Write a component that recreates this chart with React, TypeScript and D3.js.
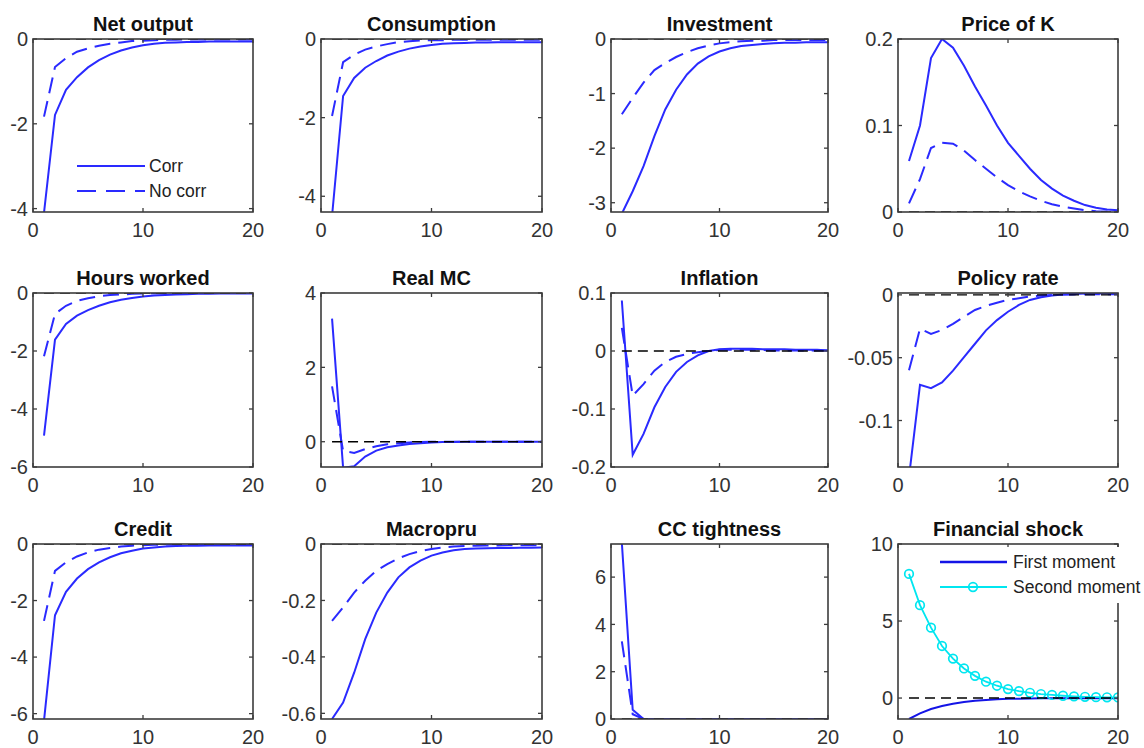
import React from 'react';
import * as d3 from 'd3';

// horizon (quarters) and x axis ticks
const periods = [1, 2, 3, 4, 5, 6, 7, 8, 9, 10, 11, 12, 13, 14, 15, 16, 17, 18, 19, 20];
const xTicks = [0, 10, 20];

// responses: "Corr" (solid) and "No corr" (dashed)
const netOutputCorr = [-4.1, -1.79, -1.2, -0.9, -0.67, -0.5, -0.37, -0.27, -0.2, -0.15, -0.11, -0.09, -0.08, -0.07, -0.07, -0.06, -0.06, -0.06, -0.06, -0.06];
const netOutputNoCorr = [-1.83, -0.66, -0.45, -0.3, -0.22, -0.16, -0.11, -0.08, -0.05, -0.04, -0.03, -0.02, -0.02, -0.01, -0.01, -0.01, -0.01, -0.01, -0.01, -0.01];
const consumptionCorr = [-4.5, -1.45, -0.99, -0.73, -0.56, -0.42, -0.32, -0.245, -0.19, -0.15, -0.12, -0.11, -0.1, -0.09, -0.09, -0.08, -0.08, -0.08, -0.08, -0.08];
const consumptionNoCorr = [-1.96, -0.59, -0.4, -0.27, -0.19, -0.13, -0.08, -0.06, -0.04, -0.03, -0.03, -0.02, -0.02, -0.02, -0.02, -0.02, -0.02, -0.02, -0.02, -0.02];
const investmentCorr = [-3.2, -2.79, -2.33, -1.78, -1.29, -0.93, -0.65, -0.45, -0.32, -0.23, -0.17, -0.13, -0.11, -0.09, -0.08, -0.07, -0.07, -0.06, -0.06, -0.06];
const investmentNoCorr = [-1.38, -1.08, -0.8, -0.57, -0.44, -0.33, -0.24, -0.17, -0.12, -0.08, -0.06, -0.04, -0.03, -0.03, -0.02, -0.02, -0.02, -0.02, -0.02, -0.02];
const priceKCorr = [0.059, 0.1, 0.178, 0.2, 0.19, 0.169, 0.145, 0.123, 0.1, 0.08, 0.065, 0.05, 0.037, 0.027, 0.019, 0.013, 0.008, 0.005, 0.003, 0.002];
const priceKNoCorr = [0.01, 0.038, 0.074, 0.08, 0.079, 0.071, 0.06, 0.05, 0.04, 0.031, 0.024, 0.018, 0.013, 0.009, 0.006, 0.004, 0.002, 0.001, 0.0005, 0];
const hoursCorr = [-4.92, -1.61, -1.07, -0.78, -0.59, -0.44, -0.32, -0.23, -0.17, -0.12, -0.09, -0.07, -0.05, -0.04, -0.03, -0.03, -0.02, -0.02, -0.02, -0.02];
const hoursNoCorr = [-2.18, -0.72, -0.44, -0.27, -0.18, -0.11, -0.07, -0.05, -0.03, -0.02, -0.01, -0.01, 0, 0, 0, 0, 0, 0, 0, 0];
const realMcCorr = [3.31, -0.7, -0.66, -0.4, -0.24, -0.15, -0.1, -0.06, -0.04, -0.02, -0.01, -0.01, 0, 0, 0, 0, 0, 0, 0, 0];
const realMcNoCorr = [1.49, -0.25, -0.3, -0.2, -0.12, -0.07, -0.04, -0.02, -0.01, 0, 0, 0, 0, 0, 0, 0, 0, 0, 0, 0];
const inflationCorr = [0.087, -0.179, -0.143, -0.097, -0.062, -0.036, -0.019, -0.0075, 0, 0.003, 0.004, 0.004, 0.004, 0.003, 0.003, 0.003, 0.002, 0.002, 0.002, 0.001];
const inflationNoCorr = [0.04, -0.077, -0.057, -0.034, -0.019, -0.01, -0.005, -0.002, 0, 0.002, 0.002, 0.002, 0.002, 0.002, 0.001, 0.001, 0.001, 0.001, 0.001, 0.001];
const policyCorr = [-0.145, -0.0716, -0.0743, -0.0697, -0.0603, -0.0496, -0.0389, -0.0282, -0.0201, -0.0134, -0.008, -0.004, -0.0019, -0.0005, 0.0003, 0.0008, 0.0011, 0.0012, 0.0012, 0.0011];
const policyNoCorr = [-0.06, -0.027, -0.031, -0.028, -0.023, -0.0174, -0.012, -0.0088, -0.0062, -0.004, -0.0027, -0.0013, -0.0005, 0, 0.0003, 0.0004, 0.0005, 0.0005, 0.0005, 0.0005];
const creditCorr = [-6.25, -2.52, -1.69, -1.22, -0.89, -0.65, -0.47, -0.33, -0.24, -0.16, -0.12, -0.09, -0.07, -0.06, -0.06, -0.05, -0.05, -0.05, -0.05, -0.05];
const creditNoCorr = [-2.72, -0.95, -0.65, -0.44, -0.3, -0.2, -0.14, -0.09, -0.06, -0.04, -0.03, -0.02, -0.02, -0.02, -0.02, -0.02, -0.02, -0.02, -0.02, -0.02];
const macropruCorr = [-0.62, -0.562, -0.456, -0.337, -0.243, -0.172, -0.118, -0.083, -0.059, -0.041, -0.03, -0.022, -0.018, -0.016, -0.015, -0.014, -0.014, -0.013, -0.013, -0.012];
const macropruNoCorr = [-0.272, -0.225, -0.172, -0.13, -0.095, -0.071, -0.051, -0.036, -0.025, -0.018, -0.012, -0.009, -0.007, -0.006, -0.005, -0.005, -0.004, -0.004, -0.004, -0.004];
const ccCorr = [7.45, 0.39, 0, 0, 0, 0, 0, 0, 0, 0, 0, 0, 0, 0, 0, 0, 0, 0, 0, 0];
const ccNoCorr = [3.28, 0.2, 0, 0, 0, 0, 0, 0, 0, 0, 0, 0, 0, 0, 0, 0, 0, 0, 0, 0];

// financial shock panel
const shockFirst = [-1.36, -0.99, -0.71, -0.52, -0.37, -0.26, -0.18, -0.12, -0.08, -0.05, -0.04, -0.03, -0.02, -0.02, -0.01, -0.01, -0.01, -0.01, -0.01, -0.01];
const shockSecond = [8.06, 6.03, 4.57, 3.38, 2.56, 1.92, 1.44, 1.06, 0.8, 0.58, 0.45, 0.34, 0.26, 0.2, 0.15, 0.11, 0.08, 0.06, 0.05, 0.04];

const titles = ['Net output', 'Consumption', 'Investment', 'Price of K', 'Hours worked', 'Real MC', 'Inflation', 'Policy rate', 'Credit', 'Macropru', 'CC tightness', 'Financial shock'];
const yDomains = [[-4.08, 0], [-4.4, 0], [-3.17, 0], [0, 0.2], [-6, 0], [-0.68, 4], [-0.2, 0.1], [-0.137, 0.0015], [-6.19, 0], [-0.62, 0], [0, 7.4], [-1.36, 10]];
const yTicks = [[-4, -2, 0], [-4, -2, 0], [-3, -2, -1, 0], [0, 0.1, 0.2], [-6, -4, -2, 0], [0, 2, 4], [-0.2, -0.1, 0, 0.1], [-0.1, -0.05, 0], [-6, -4, -2, 0], [-0.6, -0.4, -0.2, 0], [0, 2, 4, 6], [0, 5, 10]];
const corrSeries = [netOutputCorr, consumptionCorr, investmentCorr, priceKCorr, hoursCorr, realMcCorr, inflationCorr, policyCorr, creditCorr, macropruCorr, ccCorr];
const noCorrSeries = [netOutputNoCorr, consumptionNoCorr, investmentNoCorr, priceKNoCorr, hoursNoCorr, realMcNoCorr, inflationNoCorr, policyNoCorr, creditNoCorr, macropruNoCorr, ccNoCorr];

// layout of the 4x3 grid
const colLeft = [33, 321, 611, 898];
const colWidth = [220, 221, 217, 220];
const rowTop = [39, 293, 544];
const rowHeight = [173, 174, 175];

const BLUE = '#2a2aff';
const CYAN = '#00e6f0';
const FONT = 'Liberation Sans, Arial, sans-serif';

function fmt(v: number) {
  return String(Number(v.toPrecision(6)));
}

function Panel({ i }: { i: number }) {
  const col = i % 4, row = Math.floor(i / 4);
  const left = colLeft[col], top = rowTop[row], w = colWidth[col], h = rowHeight[row];
  const x = d3.scaleLinear().domain([0, 20]).range([left, left + w]);
  const y = d3.scaleLinear().domain(yDomains[i]).range([top + h, top]);
  const line = d3.line<number>().x((_, k) => x(periods[k])).y((d) => y(d));
  const clipId = 'clip' + i;
  const dom = yDomains[i];
  const isShock = i === 11;

  return (
    <g>
      <defs>
        <clipPath id={clipId}>
          <rect x={left} y={top} width={w} height={h} />
        </clipPath>
      </defs>
      <rect x={left} y={top} width={w} height={h} fill="#fff" />
      <g clipPath={`url(#${clipId})`} fill="none">
        {!isShock && (
          <>
            <path d={line(corrSeries[i]) || ''} stroke={BLUE} strokeWidth={2} />
            <path d={line(noCorrSeries[i]) || ''} stroke={BLUE} strokeWidth={2} strokeDasharray="16,8" />
          </>
        )}
        {isShock && (
          <>
            <path d={line(shockFirst) || ''} stroke="#1414e6" strokeWidth={2} />
            <path d={line(shockSecond) || ''} stroke={CYAN} strokeWidth={1.8} />
            {shockSecond.map((v, k) => (
              <circle key={k} cx={x(periods[k])} cy={y(v)} r={4.3} stroke={CYAN} strokeWidth={1.7} fill="none" />
            ))}
          </>
        )}
        {dom[0] <= 0 && dom[1] >= 0 && (
          <line x1={x(1)} x2={x(20)} y1={y(0)} y2={y(0)} stroke="#000" strokeWidth={1.4} strokeDasharray="10,6" />
        )}
      </g>
      {/* frame with inward ticks */}
      <rect x={left} y={top} width={w} height={h} fill="none" stroke="#3c3c3c" strokeWidth={1.6} />
      {xTicks.map((t) => (
        <g key={'x' + t}>
          <line x1={x(t)} x2={x(t)} y1={top + h} y2={top + h - 4} stroke="#3c3c3c" strokeWidth={1.3} />
          <line x1={x(t)} x2={x(t)} y1={top} y2={top + 4} stroke="#3c3c3c" strokeWidth={1.3} />
          <text x={x(t)} y={top + h + 25} textAnchor="middle" fontSize={20} fill="#333" fontFamily={FONT}>{t}</text>
        </g>
      ))}
      {yTicks[i].map((t) => (
        <g key={'y' + t}>
          <line x1={left} x2={left + 4} y1={y(t)} y2={y(t)} stroke="#3c3c3c" strokeWidth={1.3} />
          <line x1={left + w} x2={left + w - 4} y1={y(t)} y2={y(t)} stroke="#3c3c3c" strokeWidth={1.3} />
          <text x={left - 5} y={y(t)} dy="0.36em" textAnchor="end" fontSize={20} fill="#333" fontFamily={FONT}>{fmt(t)}</text>
        </g>
      ))}
      <text x={left + w / 2} y={top - 8} textAnchor="middle" fontSize={20} fontWeight="bold" fill="#111" fontFamily={FONT}>{titles[i]}</text>
    </g>
  );
}

export default function App() {
  return (
    <svg width={1144} height={748} style={{ position: 'absolute', left: 0, top: 0, background: '#fff' }}>
      <rect width={1144} height={748} fill="#fff" />
      {titles.map((_, i) => <Panel key={i} i={i} />)}

      {/* legend of the first panel */}
      <g fontFamily={FONT} fontSize={17.5} fill="#222">
        <line x1={77} x2={145} y1={166} y2={166} stroke={BLUE} strokeWidth={2.2} />
        <text x={149} y={172}>Corr</text>
        <line x1={77} x2={145} y1={191} y2={191} stroke={BLUE} strokeWidth={2.2} strokeDasharray="19,10" />
        <text x={149} y={197}>No corr</text>
      </g>

      {/* legend of the financial shock panel */}
      <g fontFamily={FONT} fontSize={17.5} fill="#222">
        <rect x={935} y={547} width={209} height={56} fill="#fff" />
        <line x1={940} x2={1007} y1={562} y2={562} stroke="#1414e6" strokeWidth={2.4} />
        <text x={1013} y={568}>First moment</text>
        <line x1={940} x2={1007} y1={587} y2={587} stroke={CYAN} strokeWidth={2} />
        <circle cx={973} cy={587} r={4.3} stroke={CYAN} strokeWidth={1.7} fill="none" />
        <text x={1013} y={593}>Second moment</text>
      </g>
    </svg>
  );
}
